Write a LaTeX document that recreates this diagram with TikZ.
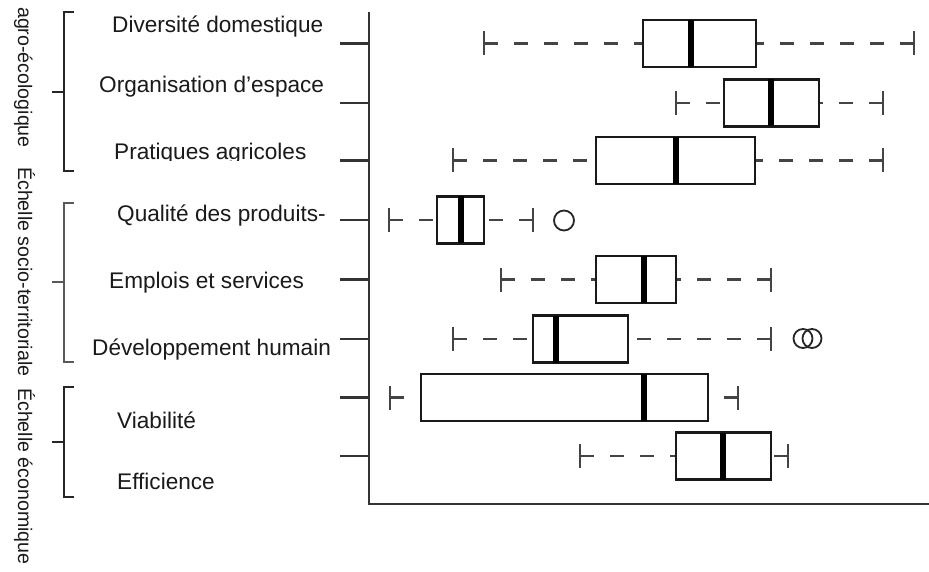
\documentclass[tikz,border=0pt]{standalone}
\usepackage{fontspec}
\setmainfont{Liberation Sans}
\definecolor{axisc}{HTML}{333333}
\definecolor{whiskc}{HTML}{444444}
\definecolor{txtc}{HTML}{1A1A1A}
\tikzset{
  whisk/.style={draw=whiskc,line width=2.4pt,dash pattern=on 14pt off 16pt},
  capline/.style={draw=whiskc,line width=2.4pt},
  boxline/.style={draw=black!90,line width=2.4pt,fill=white},
  medline/.style={draw=black,line width=6.5pt},
  tickline/.style={draw=axisc,line width=2.4pt},
  axisline/.style={draw=axisc,line width=2.8pt},
  brack/.style={draw=black!85,line width=1.6pt},
  outl/.style={draw=black!85,line width=1.8pt},
  lab/.style={inner sep=0pt,anchor=base west,text=txtc,font=\fontsize{22.6}{26}\selectfont},
  grp/.style={inner sep=0pt,rotate=-90,text=txtc,font=\fontsize{19.6}{24}\selectfont},
}
\newcommand\bplot[6]{%
  \draw[whisk] (#2,#1) -- (#3,#1);
  \draw[whisk] (#6,#1) -- (#5,#1);
  \draw[capline] (#2,#1-12) -- (#2,#1+12);
  \draw[capline] (#6,#1-12) -- (#6,#1+12);
  \draw[boxline] (#3,#1-23.5) rectangle (#5,#1+23.5);
  \draw[medline] (#4,#1-23.5) -- (#4,#1+23.5);
  \draw[tickline] (340,#1) -- (369,#1);
}
\begin{document}
\begin{tikzpicture}[x=1pt,y=-1pt]
\fill[white] (0,0) rectangle (929,572);
\useasboundingbox (0,0) rectangle (929,572);

% axes
\coordinate (axtop) at (369,12);
\coordinate (axcorner) at (369,504);
\coordinate (axright) at (929,504);
\draw[axisline] (axtop) -- (axcorner) -- (axright);

% boxplots
\bplot{43.5}{484}{643}{691}{756}{914}
\bplot{103}{676}{724}{771}{819}{883}
\bplot{160.5}{453}{596}{676}{755}{883}
\bplot{220}{389}{437}{461}{484}{533}
\bplot{279.5}{501}{596}{644}{676}{771}
\bplot{339}{453}{533}{556}{628}{771}
\bplot{397.5}{390}{421}{644}{708}{738}
\bplot{456}{580}{676}{723}{771}{788}

% outliers
\draw[outl] (564,220.5) circle[radius=10];
\draw[outl] (803,338.5) circle[radius=9.5];
\draw[outl] (812,338.5) circle[radius=9.5];

% row labels
\node[lab] (l1) at (112,33) {Diversité domestique};
\node[lab] (l2) at (99,93) {Organisation d'espace};
\begin{scope}
\clip (90,130) rectangle (340,161);
\node[lab] (l3) at (114,160) {Pratiques agricoles};
\end{scope}
\node[lab] (l4) at (117,222) {Qualité des produits-};
\node[lab] (l5) at (109,288) {Emplois et services};
\node[lab] (l6) at (92,355) {Développement humain};
\node[lab] (l7) at (117,428) {Viabilité};
\node[lab] (l8) at (117,489) {Efficience};

% group brackets
\draw[brack] (74,12) -- (64,12) -- (64,171) -- (74,171);
\draw[brack] (64,92) -- (52,92);
\draw[brack,draw=black!65] (74,203) -- (64,203) -- (64,362) -- (74,362);
\draw[brack,draw=black!65] (64,282) -- (52,282);
\draw[brack] (74,387) -- (64,387) -- (64,497) -- (74,497);
\draw[brack] (64,442) -- (52,442);

% group labels
\node[grp,anchor=base east] (g1) at (18,148) {Échelle agro-écologique};
\node[grp,anchor=base west] (g2) at (18,167) {Échelle socio-territoriale};
\node[grp,anchor=base west] (g3) at (18,388) {Échelle économique};
\end{tikzpicture}
\end{document}
